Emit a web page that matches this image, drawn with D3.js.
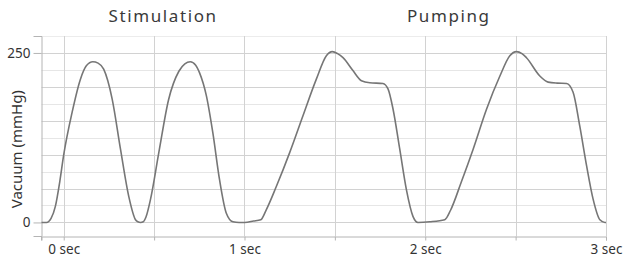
<!DOCTYPE html>
<html>
<head>
<meta charset="utf-8">
<script src="https://cdn.jsdelivr.net/npm/d3@7"></script>
<style>
  body { margin: 0; background: #fff; }
  text { font-family: "Noto Sans", "Open Sans", sans-serif; fill: #333; }
</style>
</head>
<body>
<div id="chart"></div>
<script>
const width = 624;
const height = 258;

// time in seconds, vacuum in mmHg
const timeSec = [
    -0.123, -0.095, -0.07, -0.046, -0.022, 0, 0.046, 0.092, 0.125, 0.161, 0.19, 0.221, 0.268, 0.314, 0.36, 0.397,
    0.41, 0.425, 0.44, 0.455, 0.48, 0.526, 0.58, 0.637, 0.67, 0.70, 0.73, 0.751, 0.789, 0.825, 0.862, 0.899,
    0.936, 0.97, 1.0, 1.05, 1.09, 1.121, 1.176, 1.25, 1.323, 1.397, 1.453, 1.486, 1.515, 1.545, 1.60, 1.647,
    1.693, 1.766, 1.794, 1.822, 1.859, 1.896, 1.932, 1.96, 2.025, 2.108, 2.14, 2.20, 2.265, 2.339, 2.413,
    2.468, 2.505, 2.535, 2.56, 2.634, 2.68, 2.73, 2.782, 2.818, 2.855, 2.893, 2.929, 2.966, 2.994, 3.0
];
const vacuum = [
    0, 0, 6, 24, 60, 100, 162, 211, 231, 237, 235, 226, 182, 108, 38, 4,
    1, 0, 1, 8, 34, 103, 181, 223, 234, 237, 232, 221, 187, 132, 63, 14,
    1, 0, 0, 2, 4, 19, 53, 103, 157, 211, 246, 252, 249, 243, 224, 209,
    206, 205, 197, 167, 108, 48, 9, 0, 1, 4, 18, 60, 108, 167, 216,
    246, 252, 249, 243, 216, 207, 205.5, 205, 192, 142, 83, 34, 4, 0, 0
];

const xTicks = [0, 0.5, 1, 1.5, 2, 2.5, 3];
const xLabels = ["0 sec", "", "1 sec", "", "2 sec", "", "3 sec"];
const yGrid = [0, 25, 50, 75, 100, 125, 150, 175, 200, 225, 250];
const yLabels = [0, 250];
const phases = [
    { name: "Stimulation", at: 0.55 },
    { name: "Pumping", at: 2.13 }
];

const data = timeSec.map((t, i) => ({ t: t, v: vacuum[i] }));

const x = d3.scaleLinear().domain([-0.123, 3]).range([41.5, 606]);
const y = d3.scaleLinear().domain([-20, 275]).range([236, 36]);

const svg = d3.select("#chart")
    .append("svg")
    .attr("width", width)
    .attr("height", height);

// horizontal grid, darker every 50
svg.append("g")
    .selectAll("line")
    .data(yGrid)
    .enter()
    .append("line")
    .attr("x1", x.range()[0])
    .attr("x2", x.range()[1])
    .attr("y1", d => Math.round(y(d)) + 0.5)
    .attr("y2", d => Math.round(y(d)) + 0.5)
    .style("stroke", d => d % 50 === 0 ? "#d2d2d2" : "#e6e6e6");

// top border
svg.append("line")
    .attr("x1", x.range()[0])
    .attr("x2", x.range()[1])
    .attr("y1", 36.5)
    .attr("y2", 36.5)
    .style("stroke", "#ececec");

// vertical grid
svg.append("g")
    .selectAll("line")
    .data(xTicks)
    .enter()
    .append("line")
    .attr("x1", d => Math.round(x(d)) + 0.5)
    .attr("x2", d => Math.round(x(d)) + 0.5)
    .attr("y1", y.range()[1])
    .attr("y2", y.range()[0])
    .style("stroke", "#d2d2d2");

// x axis
const xAxis = d3.axisBottom(x)
    .tickValues(xTicks)
    .tickSize(4)
    .tickPadding(4)
    .tickFormat((d, i) => xLabels[i]);

const gx = svg.append("g")
    .attr("transform", "translate(0,236.5)")
    .call(xAxis);
gx.select(".domain").style("stroke", "#b4b4b4");
gx.selectAll(".tick line").style("stroke", "#b4b4b4");
gx.selectAll(".tick text")
    .style("font-size", "13.5px")
    .style("font-family", "'Noto Sans', sans-serif")
    .style("fill", "#333");

// left end tick of x axis
svg.append("line")
    .attr("x1", x.range()[0])
    .attr("x2", x.range()[0])
    .attr("y1", 236.5)
    .attr("y2", 240.5)
    .style("stroke", "#b4b4b4");

// y axis
const yAxis = d3.axisLeft(y)
    .tickValues(yLabels)
    .tickSize(8)
    .tickPadding(3)
    .tickFormat(d3.format("d"));

const gy = svg.append("g")
    .attr("transform", "translate(41.5,0)")
    .call(yAxis);
gy.select(".domain").style("stroke", "#b4b4b4");
gy.selectAll(".tick line").style("stroke", "#b4b4b4");
gy.selectAll(".tick text")
    .style("font-size", "13.5px")
    .style("font-family", "'Noto Sans', sans-serif")
    .style("fill", "#333");

// y axis title
svg.append("text")
    .attr("transform", "translate(22," + y(108) + ") rotate(-90)")
    .attr("text-anchor", "middle")
    .style("font-size", "15px")
    .text("Vacuum (mmHg)");

// phase titles
svg.append("g")
    .selectAll("text")
    .data(phases)
    .enter()
    .append("text")
    .attr("x", d => x(d.at))
    .attr("y", 22)
    .attr("text-anchor", "middle")
    .style("font-size", "17px")
    .style("letter-spacing", "1.6px")
    .style("fill", "#3a3a3a")
    .text(d => d.name);

// vacuum curve
const line = d3.line()
    .x(d => x(d.t))
    .y(d => y(d.v))
    .curve(d3.curveMonotoneX);

svg.append("path")
    .datum(data)
    .attr("d", line)
    .style("fill", "none")
    .style("stroke", "#767676")
    .style("stroke-width", 1.6);
</script>
</body>
</html>
